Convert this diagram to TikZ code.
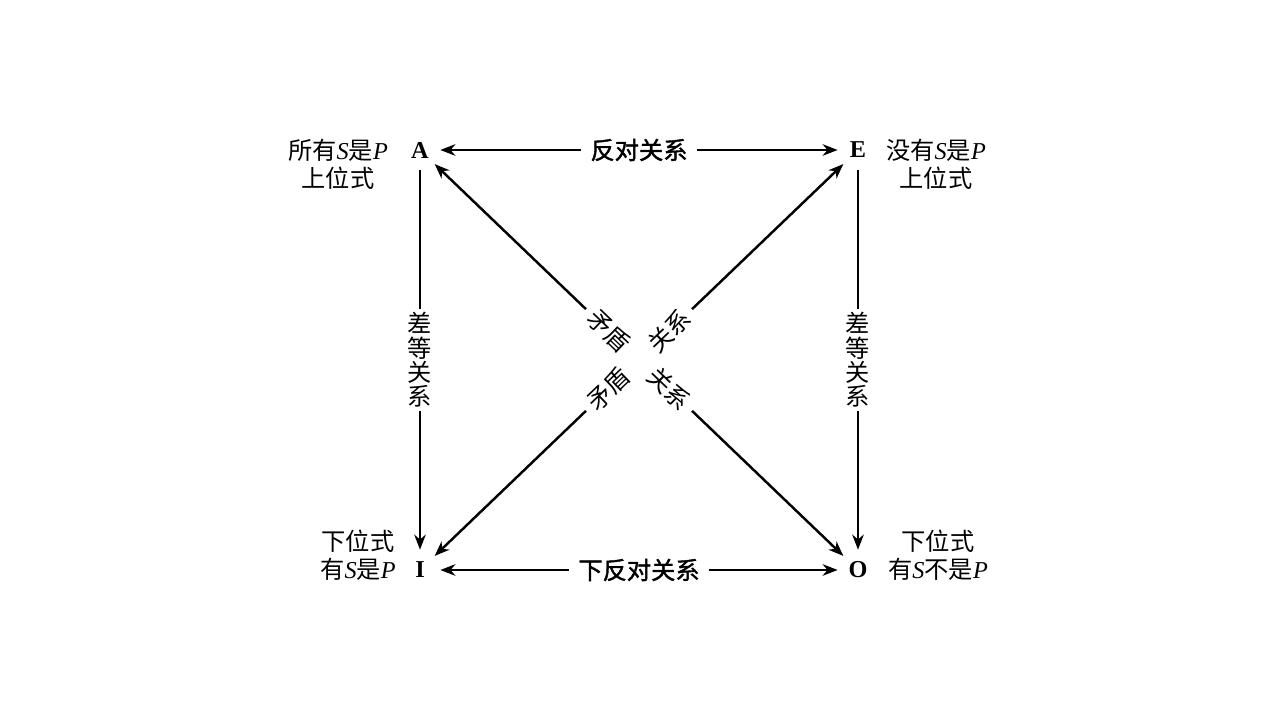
\documentclass[tikz,border=0pt]{standalone}
\usepackage{fontspec}
\setmainfont{Liberation Serif}
\newfontfamily\cjk{Noto Sans CJK SC}
\newfontfamily\cjkbold[FakeBold=1.6]{Noto Sans CJK SC}
\usetikzlibrary{arrows.meta, positioning}
\newcommand\var[1]{{\rmfamily\itshape #1}}
\tikzset{
  vertex/.style={circle, minimum size=0.8cm, inner sep=0pt,
                 font=\fontsize{13.8}{16}\selectfont\bfseries},
  note/.style={align=center, inner sep=0pt,
               font=\cjk\fontsize{13.8}{16}\selectfont},
  rel/.style={inner xsep=5pt, inner ysep=2pt,
              font=\cjkbold\fontsize{13.8}{16}\selectfont},
  stack/.style={align=center, inner xsep=0pt, inner ysep=2pt,
                font=\cjk\fontsize{13.8}{13.8}\selectfont},
  diag/.style={sloped, inner xsep=4pt, inner ysep=0pt,
               font=\cjk\fontsize{13.8}{16}\selectfont},
  arrow/.style={-{Stealth[length=3mm, width=2.3mm]}, line width=1.4pt},
  plain/.style={line width=1.4pt},
}
\begin{document}
\begin{tikzpicture}[node distance=8.4cm and 8.76cm, on grid]
    \useasboundingbox (0,0) rectangle (25.6,14.4);
    % the four corners of the square
    \node[vertex] (A) at (8.4,11.4) {A};
    \node[vertex, right=of A] (E) {E};
    \node[vertex, below=of A] (I) {I};
    \node[vertex, right=of I] (O) {O};
    % what each corner stands for
    \node[note, below left=0.28cm and 1.64cm of A] (nA) {所有\var{S}是\var{P}\\上位式};
    \node[note, below right=0.28cm and 1.56cm of E] (nE) {没有\var{S}是\var{P}\\上位式};
    \node[note, above left=0.3cm and 1.24cm of I] (nI) {下位式\\有\var{S}是\var{P}};
    \node[note, above right=0.3cm and 1.6cm of O] (nO) {下位式\\有\var{S}不是\var{P}};
    % relation labels
    \path (A) -- node[rel] (mAE) {反对关系} (E);
    \path (I) -- node[rel] (mIO) {下反对关系} (O);
    \path (A) -- node[stack] (mAI) {差\\等\\关\\系} (I);
    \path (E) -- node[stack] (mEO) {差\\等\\关\\系} (O);
    \path (A) -- node[diag, pos=0.426] (mAOa) {矛盾}
                 node[diag, pos=0.574] (mAOb) {关系} (O);
    \path (I) -- node[diag, pos=0.426] (mIEa) {矛盾}
                 node[diag, pos=0.574] (mIEb) {关系} (E);
    % connectors
    \draw[arrow] (mAE) -- (A);
    \draw[arrow] (mAE) -- (E);
    \draw[arrow] (mIO) -- (I);
    \draw[arrow] (mIO) -- (O);
    \draw[plain] (A) -- (mAI);
    \draw[arrow] (mAI) -- (I);
    \draw[plain] (E) -- (mEO);
    \draw[arrow] (mEO) -- (O);
    \draw[arrow] (mAOa) -- (A);
    \draw[arrow] (mAOb) -- (O);
    \draw[arrow] (mIEa) -- (I);
    \draw[arrow] (mIEb) -- (E);
\end{tikzpicture}
\end{document}
